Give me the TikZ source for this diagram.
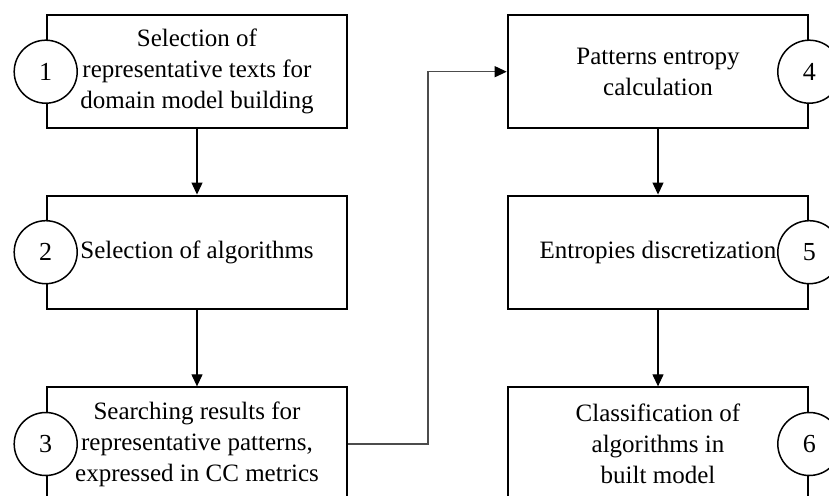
\documentclass[tikz,border=0pt]{standalone}
\usepackage{fontspec}
\setmainfont{Liberation Serif}
\usetikzlibrary{arrows.meta}
\begin{document}
\begin{tikzpicture}[x=1pt,y=-1pt,
  box/.style={draw, line width=2pt, minimum width=300.6pt, minimum height=113.3pt, inner sep=0pt, align=center, font=\fontsize{25}{31}\selectfont},
  num/.style={draw, circle, fill=white, line width=1.5pt, minimum size=63pt, inner sep=0pt, font=\fontsize{26}{28}\selectfont},
  arr/.style={-{Triangle[length=12pt,width=11pt]}, line width=1.2pt},
  link/.style={-{Triangle[length=12pt,width=11pt,color=black]}, line width=1.2pt, draw=black!70}]
\useasboundingbox (0,0) rectangle (829,495);
\clip (0,0) rectangle (829,495);
\node[box] (b1) at (197,71.7) {Selection of\\representative texts for\\domain model building};
\node[box] (b2) at (197,252.2) {Selection of algorithms};
\node[box] (b3) at (197,444) {Searching results for\\representative patterns,\\expressed in CC metrics};
\node[box] (b4) at (658,71.7) {Patterns entropy\\calculation};
\node[box] (b5) at (658,252.2) {Entropies discretization};
\node[box] (b6) at (658,444) {Classification of\\algorithms in\\built model};
\node[num] (c1) at (b1.west) {1};
\node[num] (c2) at (b2.west) {2};
\node[num] (c3) at (b3.west) {3};
\node[num] (c4) at (b4.east) {4};
\node[num] (c5) at (b5.east) {5};
\node[num] (c6) at (b6.east) {6};
\coordinate (bend) at (428,0);
\draw[arr] (b1) -- (b2);
\draw[arr] (b2) -- (b3);
\draw[arr] (b4) -- (b5);
\draw[arr] (b5) -- (b6);
\draw[link] (b3.east) -- (b3.east -| bend) |- (b4.west);
\end{tikzpicture}
\end{document}
